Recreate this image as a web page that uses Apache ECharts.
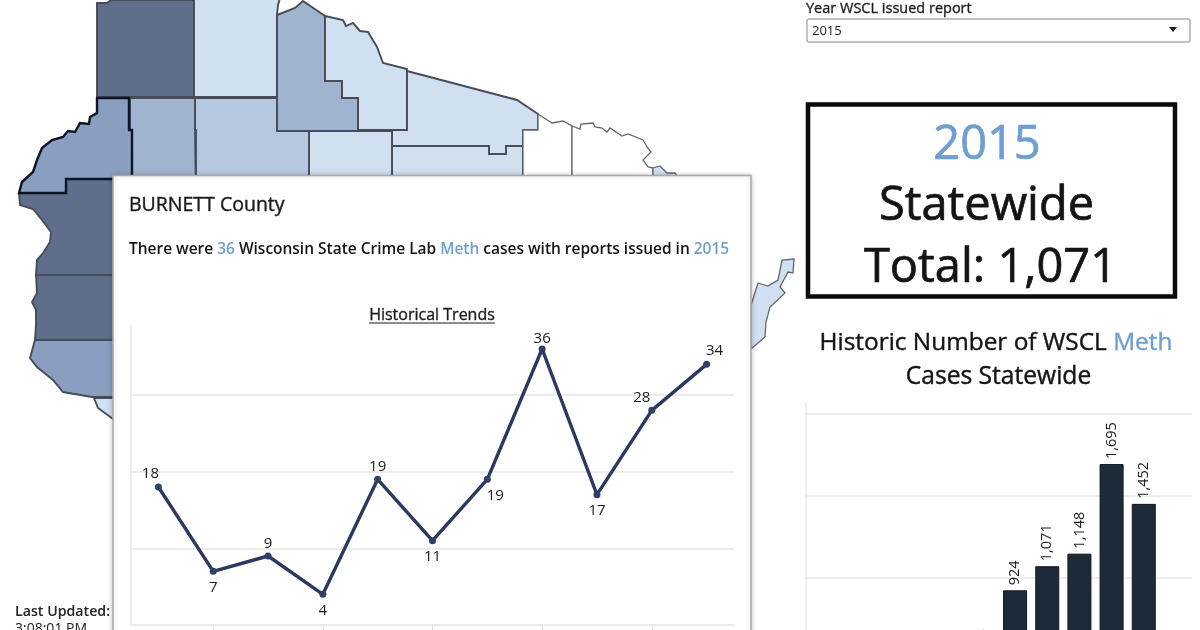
<!DOCTYPE html>
<html><head><meta charset="utf-8">
<style>html,body{margin:0;padding:0;background:#fff}#c{width:1200px;height:630px}</style>
<script src="https://cdn.jsdelivr.net/npm/echarts@6/dist/echarts.min.js"></script>
</head><body><div id="c"></div>
<script>
// ---- data ----
const trendYears = ['2008','2009','2010','2011','2012','2013','2014','2015','2016','2017','2018'];
const burnettCases = [18,7,9,4,19,11,19,36,17,28,34];
const stateYears = ['2008','2009','2010','2011','2012','2013','2014','2015','2016','2017','2018','2019'];
const stateCases = [null,null,null,null,null,505,924,1071,1148,1695,1452,null];
const countyNames = ['Douglas','Bayfield','Ashland','Iron','Vilas','Oneida','Price','Sawyer','Washburn','Forest','Florence','Marinette','Polk','St. Croix','Pierce','Pepin','Door','Burnett'];
const countyCases = [70,5,24,5,5,5,5,16,24,0,0,5,70,74,38,5,5,36];

// ---- county outlines (map resource, screen-aligned units) ----
const outlines = {
  Douglas:[[97,3],[107,3],[111,0],[194,0],[194,97],[97,97]],
  Bayfield:[[194,-2],[280,-2],[278,5],[277,15],[277,97],[194,97]],
  Ashland:[[277,15],[295,8],[303,1],[325,16],[325,81],[342,81],[342,98],[358,98],[358,131],[277,131]],
  Iron:[[325,16],[343,20],[346,26],[353,23],[360,31],[368,32],[377,47],[383,63],[407,69],[407,130],[358,130],[358,98],[342,98],[342,81],[325,81]],
  Vilas:[[407,71],[517,100],[538,114],[538,130],[523,130],[523,146],[506,146],[506,154],[489,154],[489,146],[392,146],[392,130],[407,130]],
  Oneida:[[392,146],[489,146],[489,154],[506,154],[506,146],[523,146],[523,200],[392,200]],
  Price:[[309,131],[392,131],[392,200],[309,200]],
  Sawyer:[[195,98],[277,98],[277,131],[309,131],[309,200],[196,200],[196,130],[195,130]],
  Washburn:[[130,98],[195,98],[195,130],[196,130],[196,200],[132,200],[132,130],[130,130]],
  Forest:[[538,114],[552,123],[563,121],[572,126],[572,200],[523,200],[523,130],[538,130]],
  Florence:[[572,126],[580,129],[581,124],[593,123],[595,127],[602,128],[607,132],[610,128],[622,136],[628,134],[643,140],[647,147],[651,152],[643,160],[648,167],[653,168],[653,200],[572,200]],
  Marinette:[[653,168],[660,166],[667,173],[675,173],[680,180],[680,200],[653,200]],
  Polk:[[19,193],[66,193],[66,179],[135,179],[135,275],[36,275],[37,260],[43,253],[50,242],[51,232],[42,220],[33,209],[20,205]],
  'St. Croix':[[36,275],[135,275],[135,340],[35,340],[36,325],[36,310],[32,302],[37,293]],
  Pierce:[[35,340],[135,340],[135,397],[92,397],[63,392],[53,380],[37,367],[30,358]],
  Pepin:[[94,398],[135,398],[135,430],[113,419],[98,408]],
  Door:[[751,305],[758,283],[768,286],[778,280],[782,260],[794,259],[793,273],[788,272],[780,287],[785,293],[770,307],[766,322],[765,337],[751,349]],
  Burnett:[[97,98],[97,113],[90,117],[89,124],[80,123],[75,132],[68,131],[63,137],[52,140],[42,148],[37,160],[33,172],[22,182],[19,193],[66,193],[66,179],[132,179],[132,130],[129,130],[129,98]]
};
const thinCounties = ['Forest','Florence','Door','Marinette'];
const geo = {type:'FeatureCollection',features:countyNames.map(n=>({
  type:'Feature',properties:{name:n},geometry:{type:'Polygon',coordinates:[outlines[n]]}
}))};
echarts.registerMap('wi',geo);

function shade(v){
  if(v>=60) return '#5e6e8b';
  if(v>=30) return '#8a9fbf';
  if(v>=20) return '#a1b4cf';
  if(v>=10) return '#b6c8df';
  if(v>=1) return '#d0e0f0';
  return '#ffffff';
}
const FONT='"Open Sans","Noto Sans",sans-serif';
const BLUE='#6f9fd0', INK='#141414';
// label placement for the line chart, by index
const lineLabelSide=['top','bottom','top','bottom','top','bottom','bottom','top','bottom','top','top'];
const lineLabelDx=[-8,0,0,0,0,0,8,0,0,-10,8];
const lineLabelDy=[-1,0,0,0,0,0,0,2,0,0,-1];

const chart=echarts.init(document.getElementById('c'),null,{renderer:'canvas'});
function txt(x,y,content,size,extra){
  return {type:'text',z:20,silent:true,x:x,y:y,style:Object.assign({text:content,fontFamily:FONT,fontSize:size,fill:INK,
    verticalAlign:'middle',textAlign:'left'},extra||{})};
}
function heavy(w,c){return {stroke:c||INK,lineWidth:w};}
chart.setOption({
  animation:false,
  backgroundColor:'#ffffff',
  tooltip:{show:false},
  grid:[
    {left:131,top:326,width:603,height:299,z:10,outerBoundsMode:'none'},
    {left:806,top:403,width:386,height:338.6,z:10,outerBoundsMode:'none'}
  ],
  xAxis:[
    {type:'category',gridIndex:0,data:trendYears,z:10,
      axisLine:{lineStyle:{color:'#e6e6e6',width:1.5}},
      axisTick:{show:true,alignWithLabel:true,length:5,interval:i=>i%2===1,lineStyle:{color:'#dddddd'}},
      axisLabel:{show:false}},
    {type:'category',gridIndex:1,data:stateYears,z:10,
      axisLine:{lineStyle:{color:'#e6e6e6'}},axisTick:{show:false},axisLabel:{show:false}}
  ],
  yAxis:[
    {type:'value',gridIndex:0,min:0,max:39,interval:10,z:10,
      axisLine:{show:true,lineStyle:{color:'#e6e6e6',width:1.5}},axisTick:{show:false},axisLabel:{show:false},
      splitLine:{show:true,showMaxLine:false,lineStyle:{color:'#e6e6e6',width:1.5}}},
    {type:'value',gridIndex:1,min:0,max:2068,interval:500,z:10,
      axisLine:{show:true,lineStyle:{color:'#e9e9e9',width:1.5}},axisTick:{show:false},axisLabel:{show:false},
      splitLine:{show:true,showMaxLine:false,lineStyle:{color:'#e9e9e9',width:1.5}}}
  ],
  series:[
    {type:'map',map:'wi',z:1,silent:true,roam:false,
      projection:{project:p=>[p[0],p[1]],unproject:p=>[p[0],p[1]]},
      boundingCoords:[[0,0],[1200,630]],
      layoutCenter:[600,315],layoutSize:1200,
      label:{show:false},emphasis:{disabled:true},select:{disabled:true},
      data:countyNames.map((n,i)=>({name:n,value:countyCases[i],
        itemStyle:{areaColor:shade(countyCases[i]),
          borderColor:n==='Burnett'?'#0c1526':(thinCounties.includes(n)?'#63676d':'#474d58'),
          borderWidth:n==='Burnett'?2.4:(thinCounties.includes(n)?1.3:1.9)}}))
    },
    {type:'line',xAxisIndex:0,yAxisIndex:0,z:12,data:burnettCases.map((v,i)=>({value:v,
        label:{position:lineLabelSide[i],offset:[lineLabelDx[i],lineLabelDy[i]],distance:lineLabelSide[i]==='top'?1.5:5}})),
      symbol:'circle',symbolSize:7,showSymbol:true,
      lineStyle:{color:'#2c3860',width:3.4},itemStyle:{color:'#2f4168'},
      label:{show:true,color:'#1a1a1a',fontFamily:FONT,fontSize:15},
      emphasis:{disabled:true}},
    {type:'bar',xAxisIndex:1,yAxisIndex:1,z:12,data:stateCases,barWidth:24,
      itemStyle:{color:'#1d2b39',borderColor:'#10171f',borderWidth:1},
      label:{show:true,position:'top',rotate:90,align:'left',verticalAlign:'middle',distance:5,
        color:'#1a1a1a',fontFamily:FONT,fontSize:14.5,
        formatter:p=>p.value==null?'':Number(p.value).toLocaleString('en-US')},
      emphasis:{disabled:true}}
  ],
  graphic:[
    {type:'rect',z:5,silent:true,shape:{x:113,y:175.5,width:638,height:480},
      style:{fill:'#ffffff',stroke:'#a9a9a9',lineWidth:1.5,shadowBlur:5,shadowColor:'rgba(0,0,0,0.22)'}},
    txt(129,205,'BURNETT County',19.5,Object.assign({fill:'#1c1c1c'},heavy(.4,'#1c1c1c'))),
    txt(129,249.5,'{k|There were }{b|36}{k| Wisconsin State Crime Lab }{b|Meth}{k| cases with reports issued in }{b|2015}',15,{
      rich:{k:{fontFamily:FONT,fontSize:15.47,fill:INK,fontWeight:600},b:{fontFamily:FONT,fontSize:15.47,fill:BLUE,fontWeight:600}}}),
    txt(432,315,'Historical Trends',16,Object.assign({textAlign:'center',fill:'#1c1c1c'},heavy(.35,'#1c1c1c'))),
    {type:'line',z:20,silent:true,shape:{x1:369,y1:323,x2:495,y2:323},style:{stroke:'#1c1c1c',lineWidth:1.1}},

    txt(806,9,'Year WSCL issued report',14.5,Object.assign({fill:'#1f1f1f'},heavy(.35,'#1f1f1f'))),
    {type:'rect',z:20,silent:true,shape:{x:807,y:19,width:383,height:23,r:2},style:{fill:'#fff',stroke:'#b0b0b0',lineWidth:1.5}},
    txt(812,31,'2015',13,{fill:'#222'}),
    {type:'polygon',z:20,silent:true,shape:{points:[[1169,27],[1177,27],[1173,32]]},style:{fill:'#1a1a1a'}},

    {type:'rect',z:20,silent:true,shape:{x:808,y:104.5,width:367,height:192},style:{fill:'#fff',stroke:'#0b0b0b',lineWidth:4.5}},
    txt(987,145.5,'2015',47,Object.assign({textAlign:'center',fill:BLUE},heavy(.7,BLUE))),
    txt(986.5,206.5,'Statewide',47,Object.assign({textAlign:'center'},heavy(.7))),
    txt(990.5,268.5,'Total: 1,071',47,Object.assign({textAlign:'center'},heavy(.7))),
    txt(996,343.5,'{k|Historic Number of WSCL }{b|Meth}',24.4,{textAlign:'center',
      rich:{k:{fontFamily:FONT,fontSize:24.4,fill:INK,stroke:INK,lineWidth:.4},b:{fontFamily:FONT,fontSize:24.4,fill:BLUE,stroke:BLUE,lineWidth:.4}}}),
    txt(998.5,376.5,'Cases Statewide',24.6,Object.assign({textAlign:'center'},heavy(.4))),

    txt(15,611.5,'Last Updated:',14.2,{fontWeight:600,fill:'#222'}),
    txt(15,629,'3:08:01 PM',14,{fill:'#222'})
  ]
});
</script></body></html>
